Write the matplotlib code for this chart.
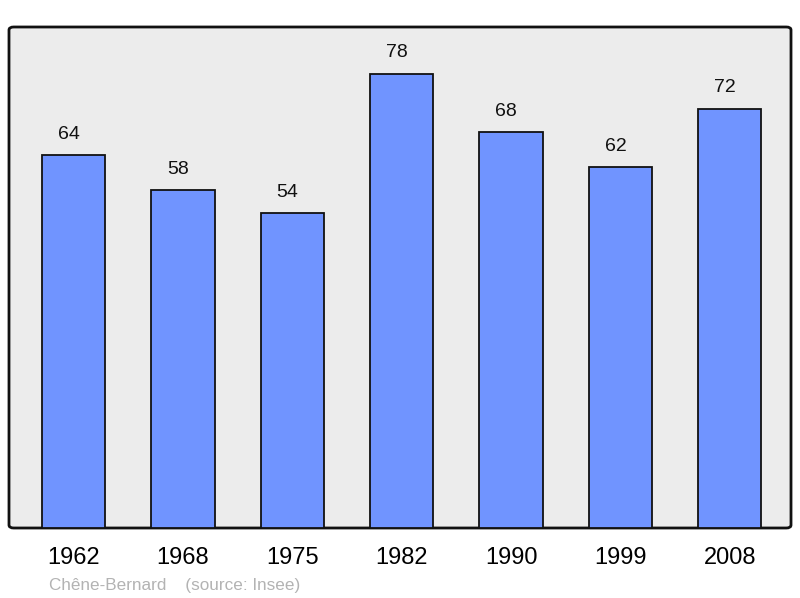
import matplotlib.pyplot as plt
from matplotlib.patches import FancyBboxPatch

plt.rcParams['font.family'] = ['Liberation Sans', 'DejaVu Sans']

years = ['1962', '1968', '1975', '1982', '1990', '1999', '2008']
population = [64, 58, 54, 78, 68, 62, 72]

fig = plt.figure(figsize=(8, 5.98), dpi=100)
ax = fig.add_axes([9 / 800, 70 / 598, 782 / 800, 501 / 598])
ax.set_facecolor('none')

# fond gris arrondi
frame = FancyBboxPatch((0, 0), 1, 1, boxstyle='round,pad=0,rounding_size=0.006',
                       transform=ax.transAxes, facecolor='#ececec',
                       edgecolor='#111111', linewidth=2, zorder=0, clip_on=False)
ax.add_patch(frame)

x = range(len(years))
ax.bar(x, population, width=0.58, color='#7094ff', edgecolor='#111111',
       linewidth=1.3, zorder=2)

for xi, v in zip(x, population):
    ax.text(xi - 0.045, v + 2.1, str(v), ha='center', va='bottom', fontsize=14,
            color='#111111')

ax.set_xlim(-0.59, 6.56)
ax.set_ylim(0, 86)
ax.set_xticks(list(x))
ax.set_xticklabels(years, fontsize=17)
ax.tick_params(axis='x', length=0, pad=14)
ax.set_yticks([])
for s in ax.spines.values():
    s.set_visible(False)

fig.text(49 / 800, 1 - 590 / 598, 'Chêne-Bernard    (source: Insee)',
         fontsize=12.3, color='#b3b3b3', ha='left', va='baseline')

fig.savefig('out.png', dpi=100)
